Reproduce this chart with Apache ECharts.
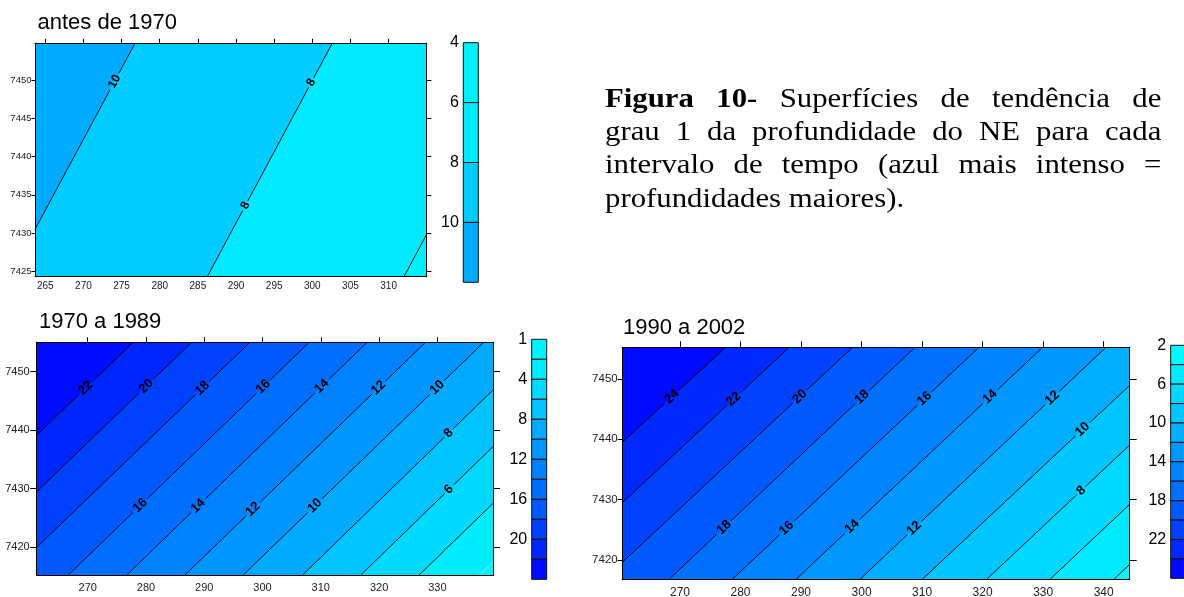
<!DOCTYPE html>
<html>
<head>
<meta charset="utf-8">
<script src="https://cdn.jsdelivr.net/npm/echarts@6/dist/echarts.min.js"></script>
<style>
html, body { margin: 0; padding: 0; background: #fff; }
#chart { position: absolute; left: 0; top: 0; width: 1184px; height: 597px; }
#caption { position: absolute; left: 605px; top: 81.5px; width: 488px; transform: scaleX(1.14); transform-origin: 0 0;
  font-family: 'Liberation Serif', 'Times New Roman', serif; font-size: 27px; line-height: 33.4px; color: #000; }
#caption .j { text-align: justify; text-align-last: justify; }
</style>
</head>
<body>
<div id="chart"></div>
<div id="caption">
  <div class="j"><b>Figura 10-</b> Superfícies de tendência de</div>
  <div class="j">grau 1 da profundidade do NE para cada</div>
  <div class="j">intervalo de tempo (azul mais intenso =</div>
  <div>profundidades maiores).</div>
</div>
<script>
// ================= DATA =================
const titles = ['antes de 1970', '1970 a 1989', '1990 a 2002'];

// ---- Panel 1: antes de 1970 ----
const p1XTicks = [265, 270, 275, 280, 285, 290, 295, 300, 305, 310];
const p1YTicks = [7425, 7430, 7435, 7440, 7445, 7450];
const p1XRange = [263.65, 314.94];
const p1YRange = [7424.26, 7454.85];
// [level, x1, y1, x2, y2] : contour line crossing points on the map frame
const p1Contours = [
  [10, 276.76, 7454.85, 263.65, 7430.46],
  [8, 302.61, 7454.85, 286.23, 7424.26],
  [6, 312.01, 7424.26, 314.94, 7429.72]
];
// [level, x, y] : contour label positions
const p1Labels = [[10, 274.13, 7449.82], [8, 299.91, 7449.69], [8, 291.26, 7433.56]];
const p1BandLevels = [4, 6, 8, 10];
const p1BandLabels = ['4', '6', '8', '10', ''];
const p1BandColors = ['#00F0FF', '#00EAFF', '#00CCFF', '#00AAFF'];

// ---- Panel 2: 1970 a 1989 ----
const p2XTicks = [270, 280, 290, 300, 310, 320, 330];
const p2YTicks = [7420, 7430, 7440, 7450];
const p2XRange = [261.25, 339.67];
const p2YRange = [7415.21, 7455.03];
const p2Contours = [
  [22, 277.82, 7455.03, 261.25, 7439.16],
  [20, 287.84, 7455.03, 261.25, 7429.46],
  [18, 297.84, 7455.03, 261.25, 7419.95],
  [16, 308.01, 7455.03, 266.67, 7415.21],
  [14, 317.96, 7455.03, 276.69, 7415.21],
  [12, 327.97, 7455.03, 286.69, 7415.21],
  [10, 337.97, 7455.03, 296.69, 7415.21],
  [8, 339.67, 7446.98, 306.88, 7415.21],
  [6, 339.67, 7437.28, 316.88, 7415.21],
  [4, 339.67, 7427.58, 326.88, 7415.21],
  [2, 339.67, 7417.46, 337.17, 7415.21]
];
const p2Labels = [
  [22, 269.71, 7447.16], [20, 280.12, 7447.43], [18, 289.65, 7447.16], [16, 300.01, 7447.55],
  [14, 310.24, 7447.43], [12, 319.74, 7447.43], [10, 329.86, 7447.43], [8, 331.97, 7439.46],
  [6, 331.97, 7429.87], [16, 278.97, 7427.18], [14, 288.97, 7427.01], [12, 298.40, 7426.45],
  [10, 308.87, 7427.18]
];
const p2BandLevels = [0, 2, 4, 6, 8, 10, 12, 14, 16, 18, 20, 22];
const p2BandLabels = ['1', '', '4', '', '8', '', '12', '', '16', '', '20', '', ''];
const p2BandColors = ['#00F4FF', '#00ECFF', '#00DAFF', '#00C4FF', '#00AAFF', '#0096FF',
                      '#0082FF', '#006EFF', '#0058FF', '#0040FF', '#0026FF', '#000CFF'];

// ---- Panel 3: 1990 a 2002 ----
const p3XTicks = [270, 280, 290, 300, 310, 320, 330, 340];
const p3YTicks = [7420, 7430, 7440, 7450];
const p3XRange = [260.47, 344.3];
const p3YRange = [7416.8, 7455.25];
const p3Contours = [
  [24, 277.55, 7455.25, 260.47, 7439.50],
  [22, 288.06, 7455.25, 260.47, 7429.49],
  [20, 298.53, 7455.25, 260.47, 7419.61],
  [18, 308.83, 7455.25, 268.19, 7416.8],
  [16, 319.40, 7455.25, 278.64, 7416.8],
  [14, 329.92, 7455.25, 289.17, 7416.8],
  [12, 340.38, 7455.25, 299.74, 7416.8],
  [10, 344.3, 7448.95, 310.03, 7416.8],
  [8, 344.3, 7439.06, 320.67, 7416.8],
  [6, 344.3, 7429.23, 331.13, 7416.8],
  [4, 344.3, 7419.28, 341.70, 7416.8]
];
const p3Labels = [
  [24, 268.90, 7446.80], [22, 278.92, 7446.63], [20, 289.71, 7447.18], [18, 300.12, 7446.96],
  [16, 310.20, 7446.96], [14, 321.10, 7447.18], [12, 331.41, 7446.96], [10, 336.46, 7441.71],
  [8, 336.20, 7431.60], [18, 277.16, 7425.51], [16, 287.63, 7425.25], [14, 298.47, 7425.51],
  [12, 308.54, 7425.41]
];
const p3BandLevels = [2, 4, 6, 8, 10, 12, 14, 16, 18, 20, 22, 24];
const p3BandLabels = ['2', '', '6', '', '10', '', '14', '', '18', '', '22', '', ''];
const p3BandColors = ['#00F8FF', '#00EAFF', '#00D8FF', '#00C6FF', '#00AEFF', '#0098FF',
                      '#0084FF', '#0070FF', '#005AFF', '#0042FF', '#0028FF', '#000AFF'];

// ================= LAYOUT / STYLE =================
const SANS = "'Liberation Sans', Arial, sans-serif";
const panels = [
  { title: titles[0], titlePos: [37.5, 23], grid: [35, 43.3, 391.3, 233.4], cb: [463.3, 42.7, 15, 239.6],
    xTicks: p1XTicks, yTicks: p1YTicks, xRange: p1XRange, yRange: p1YRange,
    contours: p1Contours, labels: p1Labels, bandLevels: p1BandLevels, bandLabels: p1BandLabels, bandColors: p1BandColors,
    xFont: 10, yFont: 9.5, xMargin: 5, yMargin: 3.5, tickL: 3.5, tickR: 5, tickT: 4.5, labelSize: 12,
    faint: [] },
  { title: titles[1], titlePos: [39, 321.5], grid: [36.7, 342.3, 457, 232.7], cb: [531.7, 339.3, 15, 240],
    xTicks: p2XTicks, yTicks: p2YTicks, xRange: p2XRange, yRange: p2YRange,
    contours: p2Contours, labels: p2Labels, bandLevels: p2BandLevels, bandLabels: p2BandLabels, bandColors: p2BandColors,
    xFont: 11, yFont: 11, xMargin: 7, yMargin: 7, tickL: 6.5, tickR: 6.3, tickT: 5, labelSize: 13,
    faint: [2] },
  { title: titles[2], titlePos: [623, 327.5], grid: [622.3, 347.3, 507.4, 232], cb: [1170.7, 345.3, 15, 233],
    xTicks: p3XTicks, yTicks: p3YTicks, xRange: p3XRange, yRange: p3YRange,
    contours: p3Contours, labels: p3Labels, bandLevels: p3BandLevels, bandLabels: p3BandLabels, bandColors: p3BandColors,
    xFont: 12, yFont: 11.5, xMargin: 7, yMargin: 4.6, tickL: 4.7, tickR: 7, tickT: 6, labelSize: 13,
    faint: [] }
];

// ================= HELPERS =================
function colorFor(p, v) {
  let idx = 0;
  for (let i = 0; i < p.bandLevels.length; i++) if (p.bandLevels[i] <= v) idx = i;
  return p.bandColors[idx];
}
function clipHalf(poly, A, B, R) {
  const side = P => (B[0] - A[0]) * (P[1] - A[1]) - (B[1] - A[1]) * (P[0] - A[0]);
  const sR = Math.sign(side(R));
  const out = [];
  for (let k = 0; k < poly.length; k++) {
    const P = poly[k], Q = poly[(k + 1) % poly.length];
    const sp = side(P) * sR, sq = side(Q) * sR;
    if (sp >= 0) out.push(P);
    if ((sp >= 0) !== (sq >= 0)) {
      const t = sp / (sp - sq);
      out.push([P[0] + t * (Q[0] - P[0]), P[1] + t * (Q[1] - P[1])]);
    }
  }
  return out;
}
function lineEnds(api, c) {
  let A = api.coord([c[1], c[2]]), B = api.coord([c[3], c[4]]);
  if (B[0] < A[0]) { const t = A; A = B; B = t; }
  return [A, B];
}
const plain = v => String(Math.round(v));

// ================= BUILD OPTION =================
const grids = [], xAxes = [], yAxes = [], series = [], graphics = [];

panels.forEach((p, pi) => {
  const sorted = p.contours.slice().sort((a, b) => b[0] - a[0]);
  const g = grids.length;
  grids.push({ left: p.grid[0], top: p.grid[1], width: p.grid[2], height: p.grid[3], containLabel: false, outerBoundsMode: 'none' });
  const axBase = { gridIndex: g, type: 'value', z: 5, splitLine: { show: false } };
  const axLine = { show: true, onZero: false, lineStyle: { color: '#000', width: 1 } };
  const xb = xAxes.length;
  xAxes.push(Object.assign({}, axBase, { position: 'bottom', min: p.xRange[0], max: p.xRange[1], axisLine: axLine,
    axisTick: { show: false },
    axisLabel: { customValues: p.xTicks, formatter: plain, fontSize: p.xFont, fontFamily: SANS, color: '#222', margin: p.xMargin } }));
  xAxes.push(Object.assign({}, axBase, { position: 'top', min: p.xRange[0], max: p.xRange[1], axisLine: axLine,
    axisTick: { show: true, customValues: p.xTicks, length: p.tickT, lineStyle: { color: '#000' } },
    axisLabel: { show: false, customValues: p.xTicks } }));
  const yl = yAxes.length;
  yAxes.push(Object.assign({}, axBase, { position: 'left', min: p.yRange[0], max: p.yRange[1], axisLine: axLine,
    axisTick: { show: true, customValues: p.yTicks, length: p.tickL, lineStyle: { color: '#000' } },
    axisLabel: { customValues: p.yTicks, formatter: plain, fontSize: p.yFont, fontFamily: SANS, color: '#222', margin: p.yMargin } }));
  yAxes.push(Object.assign({}, axBase, { position: 'right', min: p.yRange[0], max: p.yRange[1], axisLine: axLine,
    axisTick: { show: true, customValues: p.yTicks, length: p.tickR, lineStyle: { color: '#000' } },
    axisLabel: { show: false, customValues: p.yTicks } }));

  // filled bands (painter's algorithm: deepest first, shallower half-planes on top)
  series.push({
    type: 'custom', xAxisIndex: xb, yAxisIndex: yl, z: 1, silent: true,
    encode: { x: [1, 3], y: [2, 4] },
    data: sorted,
    renderItem: function (params, api) {
      const cs = params.coordSys;
      const rect = [[cs.x, cs.y], [cs.x + cs.width, cs.y], [cs.x + cs.width, cs.y + cs.height], [cs.x, cs.y + cs.height]];
      const i = params.dataIndex;
      const c = sorted[i];
      const [A, B] = lineEnds(api, c);
      const children = [];
      if (i === 0) children.push({ type: 'polygon', shape: { points: rect }, style: { fill: colorFor(p, c[0] + 0.5) } });
      const poly = clipHalf(rect, A, B, [cs.x + cs.width + 1e5, (A[1] + B[1]) / 2]);
      if (poly.length > 2) children.push({ type: 'polygon', shape: { points: poly }, style: { fill: colorFor(p, c[0] - 0.5) } });
      return { type: 'group', children: children };
    }
  });

  // contour lines with gaps at labels
  series.push({
    type: 'custom', xAxisIndex: xb, yAxisIndex: yl, z: 2, silent: true,
    encode: { x: [1, 3], y: [2, 4] },
    data: sorted,
    renderItem: function (params, api) {
      const c = sorted[params.dataIndex];
      const [A, B] = lineEnds(api, c);
      const dx = B[0] - A[0], dy = B[1] - A[1];
      const len = Math.sqrt(dx * dx + dy * dy);
      const gaps = [];
      p.labels.filter(l => l[0] === c[0]).forEach(l => {
        const P = api.coord([l[1], l[2]]);
        const t = ((P[0] - A[0]) * dx + (P[1] - A[1]) * dy) / (len * len);
        const half = (String(l[0]).length * p.labelSize * 0.3 + 2) / len;
        gaps.push([t - half, t + half]);
      });
      gaps.sort((a, b) => a[0] - b[0]);
      const segs = [];
      let s = 0;
      gaps.forEach(gp => { if (gp[0] > s) segs.push([s, gp[0]]); s = Math.max(s, gp[1]); });
      if (s < 1) segs.push([s, 1]);
      const faint = p.faint.indexOf(c[0]) >= 0;
      return {
        type: 'group',
        children: segs.map(sg => ({
          type: 'line',
          shape: { x1: A[0] + dx * sg[0], y1: A[1] + dy * sg[0], x2: A[0] + dx * sg[1], y2: A[1] + dy * sg[1] },
          style: { stroke: faint ? 'rgba(255,255,255,0.55)' : '#000', lineWidth: faint ? 0.8 : 0.9 }
        }))
      };
    }
  });

  // contour labels
  series.push({
    type: 'custom', xAxisIndex: xb, yAxisIndex: yl, z: 3, silent: true,
    encode: { x: 1, y: 2 },
    data: p.labels,
    renderItem: function (params, api) {
      const l = p.labels[params.dataIndex];
      const c = sorted.find(cc => cc[0] === l[0]);
      const [A, B] = lineEnds(api, c);
      const dx = B[0] - A[0], dy = B[1] - A[1];
      const len2 = dx * dx + dy * dy;
      const P = api.coord([l[1], l[2]]);
      const t = ((P[0] - A[0]) * dx + (P[1] - A[1]) * dy) / len2;
      const ang = Math.atan2(-dy, dx);
      return {
        type: 'text', x: A[0] + dx * t, y: A[1] + dy * t, rotation: ang,
        style: { text: String(l[0]), font: 'bold ' + p.labelSize + 'px ' + SANS, fill: '#000', align: 'center', verticalAlign: 'middle' }
      };
    }
  });

  // color scale bar
  const cg = grids.length;
  grids.push({ left: p.cb[0], top: p.cb[1], width: p.cb[2], height: p.cb[3], containLabel: false, outerBoundsMode: 'none' });
  const cx = xAxes.length;
  xAxes.push({ gridIndex: cg, type: 'value', min: 0, max: 1, show: false });
  const cy = yAxes.length;
  const nB = p.bandColors.length;
  const idxs = [];
  for (let i = 0; i <= nB; i++) idxs.push(i);
  yAxes.push({ gridIndex: cg, type: 'value', min: 0, max: nB, inverse: true, position: 'left', z: 5,
    axisLine: { show: false }, axisTick: { show: false }, splitLine: { show: false },
    axisLabel: { customValues: idxs, formatter: v => p.bandLabels[Math.round(v)] || '', fontSize: 16, fontFamily: SANS, color: '#000', margin: 4.5 } });
  series.push({
    type: 'custom', xAxisIndex: cx, yAxisIndex: cy, silent: true,
    encode: { x: 0, y: 1 },
    data: p.bandColors.map((col, i) => [0, i]),
    renderItem: function (params, api) {
      const i = params.dataIndex;
      const a = api.coord([0, i]), b = api.coord([1, i + 1]);
      return { type: 'rect', shape: { x: Math.min(a[0], b[0]), y: Math.min(a[1], b[1]), width: Math.abs(b[0] - a[0]), height: Math.abs(b[1] - a[1]) },
        style: { fill: p.bandColors[i], stroke: '#111', lineWidth: 1 } };
    }
  });

  graphics.push({ type: 'text', x: p.titlePos[0], y: p.titlePos[1],
    style: { text: p.title, font: '22px ' + SANS, fill: '#000', align: 'left', verticalAlign: 'middle' } });
});

const chart = echarts.init(document.getElementById('chart'), null, { renderer: 'canvas' });
chart.setOption({
  animation: false,
  backgroundColor: '#fff',
  grid: grids,
  xAxis: xAxes,
  yAxis: yAxes,
  series: series,
  graphic: graphics
});
</script>
</body>
</html>
